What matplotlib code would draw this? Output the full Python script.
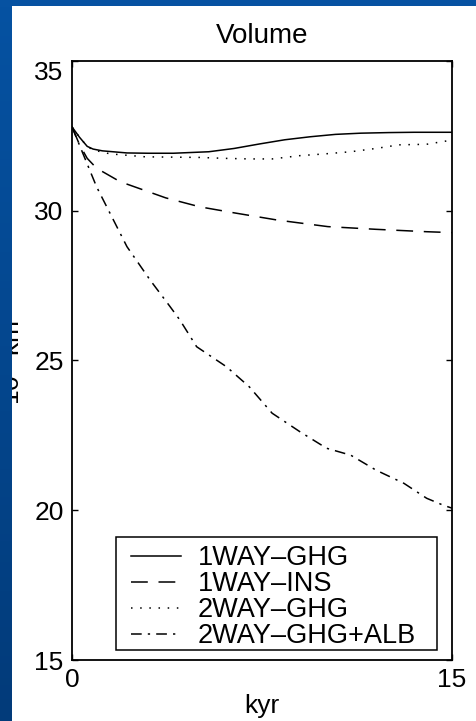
import numpy as np
import matplotlib
matplotlib.use("Agg")
import matplotlib.pyplot as plt
from matplotlib.colors import LinearSegmentedColormap
from matplotlib.transforms import ScaledTranslation
from matplotlib.patches import Rectangle

plt.rcParams['font.family'] = ['Liberation Sans', 'DejaVu Sans']

# ---- data (kyr, 10^3 km^3) ----
t_1way_ghg = [0, 0.3, 0.6, 0.83, 1.2, 2.17, 3, 4, 5.4, 6.4, 7.4, 8.4, 9.4, 10.4, 11.4, 12.5, 13.5, 15]
v_1way_ghg = [32.8, 32.45, 32.15, 32.06, 32.0, 31.93, 31.92, 31.92, 31.97, 32.08, 32.23, 32.37,
              32.47, 32.55, 32.59, 32.61, 32.62, 32.62]

t_1way_ins = [0, 0.3, 0.6, 0.97, 1.9, 2.8, 3.7, 5.05, 6.4, 8.1, 10.1, 12, 14, 15]
v_1way_ins = [32.8, 32.2, 31.75, 31.42, 30.97, 30.7, 30.43, 30.13, 29.93, 29.69, 29.47, 29.38, 29.30, 29.27]

t_2way_ghg = [0, 0.3, 0.6, 0.83, 1.5, 2.9, 4, 5.05, 6, 7.0, 7.9, 9.0, 10, 11, 12, 12.9, 14, 15]
v_2way_ghg = [32.8, 32.45, 32.15, 32.03, 31.9, 31.8, 31.79, 31.78, 31.75, 31.73, 31.73, 31.84,
              31.9, 31.97, 32.08, 32.2, 32.22, 32.36]

t_2way_alb = [0, 0.32, 0.97, 2.17, 3.08, 3.87, 4.26, 4.92, 6.1, 7.0, 7.9, 9.0, 10.05, 11.0, 12.0,
              13.1, 14.0, 14.65, 15]
v_2way_alb = [32.8, 32.14, 30.8, 28.8, 27.69, 26.8, 26.35, 25.46, 24.79, 24.12, 23.24, 22.62,
              22.07, 21.84, 21.34, 20.9, 20.4, 20.17, 20.07]

labels = ['1WAY\u2013GHG', '1WAY\u2013INS', '2WAY\u2013GHG', '2WAY\u2013GHG+ALB']
y_ticks = [15, 20, 25, 30, 35]
x_ticks = [0, 15]

W, H = 477, 721
fig = plt.figure(figsize=(W / 100, H / 100), dpi=100, facecolor='white')

AX_L, AX_R, AX_T, AX_B = 72, 452, 61, 660
AW, AH = AX_R - AX_L, AX_B - AX_T
ax = fig.add_axes([AX_L / W, 1 - AX_B / H, AW / W, AH / H])
fs = 19
lw = 1.1
ax.plot(t_1way_ghg, v_1way_ghg, color='black', lw=lw, ls='-', label=labels[0])
ax.plot(t_1way_ins, v_1way_ins, color='black', lw=lw, ls=(0, (11, 7)), label=labels[1])
ax.plot(t_2way_ghg, v_2way_ghg, color='black', lw=lw, ls=(0, (1, 5)), label=labels[2])
ax.plot(t_2way_alb, v_2way_alb, color='black', lw=lw, ls=(0, (7, 4, 1.5, 4)), label=labels[3])

ax.set_xlim(0, 15)
ax.set_ylim(15, 35)
ax.set_xticks(x_ticks)
ax.set_yticks(y_ticks)
ax.tick_params(direction='in', length=4, width=1, labelsize=fs, top=True, right=True, pad=6)
for s in ax.spines.values():
    s.set_linewidth(1.3)

# shift the top y tick label down like the reference
for lab in ax.get_yticklabels():
    if lab.get_text() == '35':
        lab.set_transform(lab.get_transform() + ScaledTranslation(0, -10 / 100, fig.dpi_scale_trans))

ax.set_xlabel('kyr', fontsize=fs, labelpad=1)
ax.text(0.5, 1 + 25 / AH, 'Volume', transform=ax.transAxes, ha='center', va='center', fontsize=20)

# legend box (frame drawn as a rectangle to match the reference padding)
bx0, bx1, by0, by1 = 116, 437, 537, 650
ax.add_patch(Rectangle(((bx0 - AX_L) / AW, (AX_B - by1) / AH), (bx1 - bx0) / AW, (by1 - by0) / AH,
                       transform=ax.transAxes, facecolor='white', edgecolor='black', lw=1.1, zorder=4))
leg = ax.legend(loc='upper left', bbox_to_anchor=((131 - AX_L) / AW, (AX_B - 545) / AH), borderaxespad=0,
                fontsize=19.5, frameon=False, handlelength=1.85, handletextpad=0.62,
                labelspacing=0.0, borderpad=0.0)
leg.set_zorder(5)

# y label (partially hidden by slide background)
fig.text(11 / W, 1 - 356 / H, '10$^3$ km$^3$', rotation=90, ha='center', va='center', fontsize=fs)

# slide background strips
cmap = LinearSegmentedColormap.from_list('bg', ['#0652a2', '#023b7a'])
bax = fig.add_axes([0, 0, 12 / W, 1], zorder=10)
bax.imshow(np.linspace(0, 1, 100).reshape(-1, 1), aspect='auto', cmap=cmap, extent=[0, 1, 0, 1], origin='upper')
bax.axis('off')
tax = fig.add_axes([0, 1 - 6 / H, 1, 6 / H], zorder=10)
tax.set_facecolor('#0652a2')
tax.set_xticks([]); tax.set_yticks([])
for s in tax.spines.values():
    s.set_visible(False)

fig.savefig('out.png', dpi=100, facecolor='white')
